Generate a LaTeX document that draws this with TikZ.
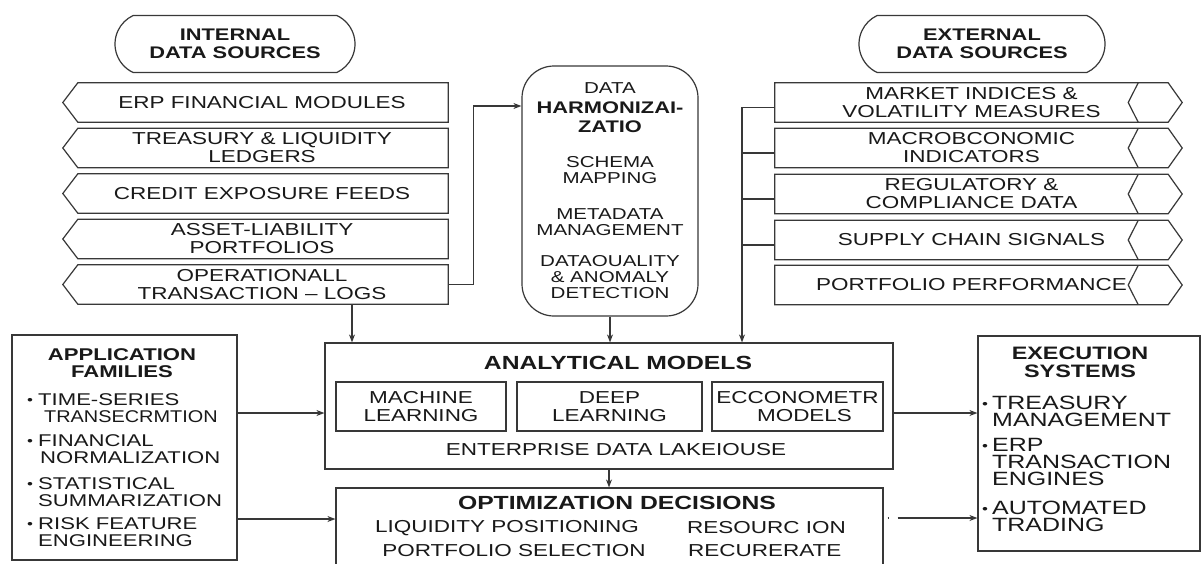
\documentclass[tikz,border=0pt]{standalone}
\usepackage{fontspec}
\setmainfont{Liberation Sans}[FakeStretch=1.3]
\usetikzlibrary{arrows.meta,shapes.misc}

% small bullet and hanging indent for the list boxes
\newcommand\smallbullet{{\fontsize{13}{13}\selectfont\raisebox{1pt}{•}}}
\newcommand\bul{\makebox[11pt][l]{\smallbullet}}
\newcommand\ind{\hspace*{11pt}}
\newcommand\bulx{\makebox[10pt][l]{\smallbullet}}
\newcommand\indx{\hspace*{10pt}}

\tikzset{
  ln/.style={line width=1.2pt, draw=black!78},
  arr/.style={ln, -{Stealth[length=8pt,width=6pt]}},
  txt/.style={inner sep=0pt, align=center, text=black!90},
  pill/.style={ln, txt, rounded rectangle, rounded rectangle arc length=130,
    minimum width=#1, minimum height=57pt,
    font=\fontsize{16.8}{18}\selectfont\bfseries},
  srcrow/.style={txt, minimum height=39pt, font=\fontsize{17.3}{18}\selectfont},
  panel/.style={ln, inner sep=0pt},
  modelbox/.style={ln, txt, minimum height=49pt, font=\fontsize{17.3}{18.3}\selectfont},
  body/.style={txt, font=\fontsize{17.3}{18}\selectfont},
  headA/.style={txt, font=\fontsize{19}{20}\selectfont\bfseries},
  headB/.style={txt, font=\fontsize{17}{17}\selectfont\bfseries},
}

\begin{document}
\begin{tikzpicture}[x=1pt, y=-1pt]
\fill[white] (0,0) rectangle (1201,563);
\useasboundingbox (0,0) rectangle (1201,563);
\clip (0,0) rectangle (1201,563);

% ---------- source headers ----------
\node[pill=240pt] (inthead) at (235,44) {INTERNAL\\DATA SOURCES};
\node[pill=246pt] (exthead) at (982,44) {EXTERNAL\\DATA SOURCES};

% ---------- internal sources (notched on the left) ----------
\foreach \n/\yy/\txt in {
  i1/102.5/{ERP FINANCIAL MODULES},
  i2/148/{TREASURY \& LIQUIDITY\\LEDGERS},
  i3/193.5/{CREDIT EXPOSURE FEEDS},
  i4/239/{ASSET-LIABILITY\\PORTFOLIOS},
  i5/284.5/{OPERATIONALL\\TRANSACTION – LOGS}}{
  \node[srcrow, minimum width=372pt] (\n) at (262,\yy) {\txt};
  \draw[ln] ([xshift=2pt]\n.north west) -- (\n.north east) -- (\n.south east)
    -- ([xshift=2pt]\n.south west) -- ([xshift=-13pt]\n.west) -- cycle;
}

% ---------- external sources (hexagonal cap on the right) ----------
\foreach \n/\yy/\txt in {
  e1/102.5/{MARKET INDICES \&\\VOLATILITY MEASURES},
  e2/148/{MACROBCONOMIC\\INDICATORS},
  e3/194/{REGULATORY \&\\COMPLIANCE DATA},
  e4/240/{SUPPLY CHAIN SIGNALS},
  e5/285/{PORTFOLIO PERFORMANCE}}{
  \node[srcrow, minimum width=393pt] (\n) at (971.5,\yy) {\txt};
  \draw[ln] (\n.north west) -- (\n.north east) -- ([xshift=14pt]\n.east)
    -- (\n.south east) -- (\n.south west) -- cycle;
  \draw[ln] ([xshift=-30pt]\n.north east) -- ([xshift=-40pt]\n.east)
    -- ([xshift=-30pt]\n.south east);
}

% ---------- harmonization stage ----------
\node[ln, txt, rounded corners=32pt, minimum width=176pt, minimum height=250pt,
  font=\fontsize{15.8}{16}\selectfont] (harm) at (610,191)
  {DATA\\[4pt]{\fontsize{16.8}{16}\selectfont\bfseries HARMONIZAI-}\\[3pt]
   {\fontsize{16.8}{16}\selectfont\bfseries ZATIO}\\[19pt]
   SCHEMA\\MAPPING\\[20pt]METADATA\\MANAGEMENT\\[15pt]
   DATAOUALITY\\\& ANOMALY\\DETECTION};

% ---------- analytical models ----------
\node[panel, minimum width=568pt, minimum height=126pt] (ana) at (609,406) {};
\node[headA] (anat) at (618,363) {ANALYTICAL MODELS};
\node[modelbox, minimum width=170pt] (ml) at (421,406.5) {MACHINE\\LEARNING};
\node[modelbox, minimum width=185pt] (dl) at (609.5,406.5) {DEEP\\LEARNING};
\node[modelbox, minimum width=171pt] (em) at (797.5,406.5) {ECCONOMETR\\\hspace*{14pt}MODELS};
\node[body] (lake) at (616,450) {ENTERPRISE DATA LAKEIOUSE};

% ---------- optimization decisions ----------
\node[panel, minimum width=547pt, minimum height=100pt] (opt) at (609.5,538) {};
\node[headA] (optt) at (617,503) {OPTIMIZATION DECISIONS};
\node[body] (o1) at (507,528) {LIQUIDITY POSITIONING};
\node[body] (o2) at (514,551) {PORTFOLIO SELECTION};
\node[body, anchor=west] (o3) at (687,528) {RESOURC ION};
\node[body, anchor=west] (o4) at (688,551) {RECURERATE};

% ---------- application families ----------
\node[panel, minimum width=225pt, minimum height=225pt] (app) at (124.5,447.5) {};
\node[headB] (appt) at (122,363.5) {APPLICATION\\FAMILIES};
\node[txt, anchor=north west, align=left, font=\fontsize{17}{17}\selectfont] (appl) at (27,393)
  {\bul TIME-SERIES\\\hspace*{17pt}\scalebox{0.9}[1]{TRANSECRMTION}\\[7pt]
   \bul FINANCIAL\\\hspace*{13pt}NORMALIZATION\\[9pt]
   \bul STATISTICAL\\\ind SUMMARIZATION\\[6pt]
   \bul RISK FEATURE\\\ind ENGINEERING};

% ---------- execution systems ----------
\node[panel, minimum width=222pt, minimum height=215pt] (exe) at (1089,443.5) {};
\node[txt, font=\fontsize{18}{18}\selectfont\bfseries] (exet) at (1080,362) {EXECUTION\\SYSTEMS};
\node[txt, anchor=north west, align=left, font=\fontsize{19.2}{17}\selectfont] (exel) at (982,396)
  {\bulx TREASURY\\\indx MANAGEMENT\\[8pt]
   \bulx ERP\\\indx TRANSACTION\\\indx ENGINES\\[12pt]
   \bulx AUTOMATED\\\indx TRADING};

% ---------- connectors ----------
\coordinate (opdrop) at (352,0);
\coordinate (bus) at (742,0);

\draw[arr] (i5.east) -- ++(25,0) |- ([yshift=85pt]harm.west);
\draw[arr] (i5.south -| opdrop) -- (ana.north -| opdrop);
\draw[arr] (harm.south) -- (harm.south |- ana.north);

\draw[arr] ([yshift=-5pt]e1.west) -| (bus |- ana.north);
\foreach \n in {e2,e3,e4}
  \draw[ln] ([yshift=-5pt]\n.west) -- ([yshift=-5pt]\n.west -| bus);

\draw[arr] ([yshift=34.5pt]app.east) -- ([yshift=34.5pt]app.east -| ana.west);
\draw[arr] ([yshift=-71.5pt]app.east) -- ([yshift=-71.5pt]app.east -| opt.west);
\draw[arr] (ana.south) -- (ana.south |- opt.north);
\draw[arr] ([yshift=-7pt]ana.east) -- ([yshift=-7pt]ana.east -| exe.west);
\draw[arr, dash pattern=on 1pt off 9pt on 300pt]
  ([shift={(4pt,20pt)}]opt.east) -- ([yshift=20pt]opt.east -| exe.west);
\end{tikzpicture}
\end{document}
